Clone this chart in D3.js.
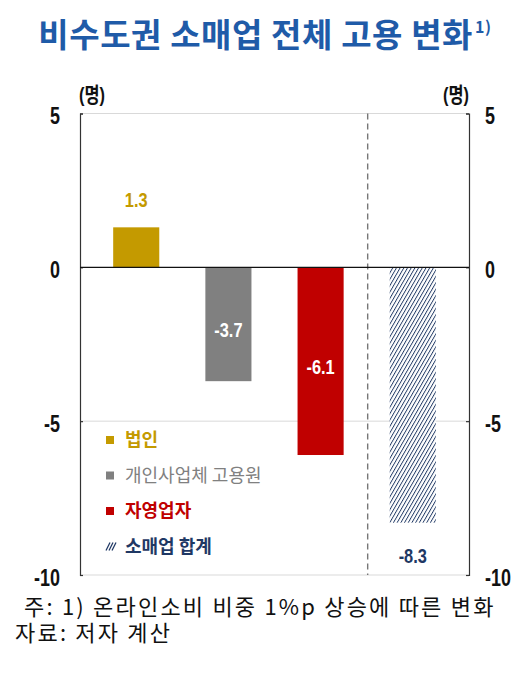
<!DOCTYPE html>
<html><head><meta charset="utf-8">
<script src="https://cdn.jsdelivr.net/npm/d3@7"></script>
<style>
body{margin:0;background:#fff;}
svg{display:block;}
.cond{font-family:"Liberation Sans","Noto Sans CJK KR",sans-serif;}
.kr{font-family:"Noto Sans CJK KR","Noto Sans",sans-serif;}
</style></head>
<body>
<script>
const categories = ["법인", "개인사업체 고용원", "자영업자", "소매업 합계"];
const values = [1.3, -3.7, -6.1, -8.3];
const tickValues = [5, 0, -5, -10];
const title = "비수도권 소매업 전체 고용 변화";
const unitLabel = "(명)";
const notes = ["주: 1) 온라인소비 비중 1%p 상승에 따른 변화", "자료: 저자 계산"];

const colors = ["#C49A00", "#808080", "#C00000", "url(#hatch)"];
const textColors = ["#C49A00", "#808080", "#C00000", "#1F3864"];

const W = 530, H = 674;
const SX = 0.78; // horizontal condensing for narrow-style labels
const svg = d3.select("body").append("svg").attr("width", W).attr("height", H);

const defs = svg.append("defs");
const pat = defs.append("pattern").attr("id", "hatch").attr("patternUnits", "userSpaceOnUse")
  .attr("width", 3.2).attr("height", 3.2).attr("patternTransform", "rotate(30)");
pat.append("rect").attr("width", 3.2).attr("height", 3.2).attr("fill", "#fff");
pat.append("line").attr("x1", 0).attr("y1", 0).attr("x2", 0).attr("y2", 3.2)
  .attr("stroke", "#1F3864").attr("stroke-width", 1.8);

const pLeft = 80, pRight = 469, pTop = 113.5, pBottom = 575;
const y = d3.scaleLinear().domain([5, -10]).range([pTop, pBottom]);
const x = d3.scaleBand().domain(categories).range([pLeft, pRight]).paddingInner(0.5).paddingOuter(0.36);

// condensed text helper: place at (cx, cy) and squeeze horizontally
function condText(sel, cx, cy) {
  return sel.attr("x", 0).attr("y", 0).attr("transform", `translate(${cx},${cy}) scale(${SX},1)`);
}

// title
const t = svg.append("text").attr("class", "kr").attr("x", 265).attr("y", 47)
  .attr("text-anchor", "middle").attr("font-size", 33).attr("font-weight", "bold")
  .attr("fill", "#1F5BA8").attr("letter-spacing", 0.6);
t.append("tspan").text(title.replace(/ /g, "  "));
t.append("tspan").attr("font-size", 16).attr("dy", -14).attr("dx", 2).text("1)");

// gridlines
svg.append("g").selectAll("line").data(tickValues.filter(v => v !== 0)).join("line")
  .attr("x1", pLeft).attr("x2", pRight).attr("y1", d => y(d)).attr("y2", d => y(d))
  .attr("stroke", "#d9d9d9").attr("stroke-width", 1);

// axes
const fmt = d => String(d);
const axL = d3.axisLeft(y).tickValues(tickValues).tickSize(-3).tickPadding(22).tickFormat(fmt);
const axR = d3.axisRight(y).tickValues(tickValues).tickSize(-3).tickPadding(19).tickFormat(fmt);
const gL = svg.append("g").attr("transform", `translate(${pLeft},0)`).call(axL);
const gR = svg.append("g").attr("transform", `translate(${pRight},0)`).call(axR);
[[gL, -20], [gR, 16]].forEach(([g, off]) => {
  g.select(".domain").attr("stroke", "#333").attr("stroke-width", 1.2);
  g.selectAll(".tick line").attr("stroke", "#333").attr("stroke-width", 1.2);
  g.selectAll(".tick text").attr("font-size", 23).attr("fill", "#111")
    .attr("font-weight", "bold").attr("dy", "0.36em")
    .style("font-family", '"Liberation Sans",sans-serif')
    .each(function () { condText(d3.select(this), off, 2); });
});

// unit labels
[92, 456].forEach(cx => {
  condText(svg.append("text").attr("class", "cond").attr("text-anchor", "middle")
    .attr("font-size", 21).attr("font-weight", "bold").attr("fill", "#111").text(unitLabel), cx, 102);
});

// dashed separator
const sepX = (x(categories[2]) + x.bandwidth() + x(categories[3])) / 2 + 1;
svg.append("line").attr("x1", sepX).attr("x2", sepX).attr("y1", pTop).attr("y2", pBottom)
  .attr("stroke", "#777").attr("stroke-width", 1.4).attr("stroke-dasharray", "6,4");

// bars
svg.append("g").selectAll("rect").data(values).join("rect")
  .attr("x", (d, i) => x(categories[i])).attr("width", x.bandwidth())
  .attr("y", d => y(Math.max(0, d))).attr("height", d => Math.abs(y(d) - y(0)))
  .attr("fill", (d, i) => colors[i]);

// zero line
svg.append("line").attr("x1", pLeft).attr("x2", pRight).attr("y1", y(0)).attr("y2", y(0))
  .attr("stroke", "#111").attr("stroke-width", 1.3);

// value labels
const labelPos = [
  d => y(d) - 28,
  d => y(d / 2) + 5,
  d => y(d / 2) + 5,
  d => y(d) + 33
];
const labelFill = ["#C49A00", "#fff", "#fff", "#1F3864"];
svg.append("g").selectAll("text").data(values).join("text")
  .attr("class", "cond")
  .attr("text-anchor", "middle").attr("font-size", 21).attr("font-weight", "bold").attr("dy", "0.36em")
  .attr("fill", (d, i) => labelFill[i]).text(d => d.toFixed(1))
  .each(function (d, i) { condText(d3.select(this), x(categories[i]) + x.bandwidth() / 2, labelPos[i](d)); });

// legend
const lg = svg.append("g").attr("transform", "translate(106,440)");
categories.forEach((c, i) => {
  const g = lg.append("g").attr("transform", `translate(0,${i * 35.5})`);
  if (i < 3) {
    g.append("rect").attr("x", 0).attr("y", -4).attr("width", 8).attr("height", 8).attr("fill", colors[i]);
  } else {
    [0, 3, 6].forEach(o => g.append("line").attr("x1", o).attr("y1", 4).attr("x2", o + 4).attr("y2", -4)
      .attr("stroke", "#1F3864").attr("stroke-width", 1.3));
  }
  g.append("text").attr("class", "kr").attr("x", 19).attr("y", 0).attr("dy", "0.36em")
    .attr("font-size", 18).attr("font-weight", i === 1 ? "normal" : "bold")
    .attr("fill", textColors[i]).text(c);
});

// notes (one text block, two lines)
const nt = svg.append("text").attr("class", "kr").attr("font-size", 22)
  .attr("letter-spacing", 2.2).attr("fill", "#111");
nt.append("tspan").attr("x", 24).attr("y", 615).text(notes[0]);
nt.append("tspan").attr("x", 15).attr("y", 641).text(notes[1]);
</script>
</body></html>
